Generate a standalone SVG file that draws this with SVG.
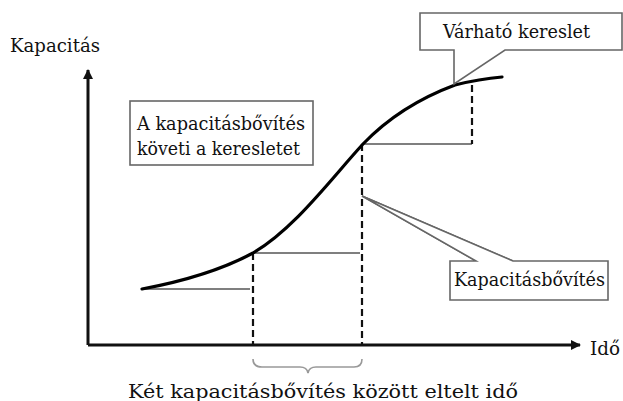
<svg xmlns="http://www.w3.org/2000/svg" width="623" height="401" viewBox="0 0 623 401">
<style>
text{font-family:"DejaVu Serif","Liberation Serif",serif;fill:#111;font-size:19px}
.axis{stroke:#111;stroke-width:3;fill:none}
.curve{stroke:#000;stroke-width:3.2;fill:none;stroke-linecap:round}
.dash{stroke:#111;stroke-width:2.2;stroke-dasharray:7 4;fill:none}
.step{stroke:#555;stroke-width:1.6;fill:none}
.box{stroke:#666;stroke-width:1.6;fill:#fff}
.lead{stroke:#666;stroke-width:1.4;fill:none}
.brace{stroke:#999;stroke-width:1.6;fill:none}
</style>
<defs>
<marker id="arr" viewBox="0 0 10 10" refX="9" refY="5" markerWidth="10" markerHeight="10" markerUnits="userSpaceOnUse" orient="auto">
<path d="M0,0 L10,5 L0,10 Z" fill="#111"/>
</marker>
</defs>
<rect width="623" height="401" fill="#fff"/>
<g id="connectors">
<line class="axis" x1="88" y1="345" x2="88" y2="70" marker-end="url(#arr)"/>
<line class="axis" x1="88" y1="345" x2="580" y2="345" marker-end="url(#arr)"/>
<path class="step" d="M142,289 H250"/>
<path class="step" d="M253,253 H360"/>
<path class="step" d="M363,144 H472"/>
<path class="dash" d="M253,253 V345"/>
<path class="dash" d="M362,144 V345"/>
<path class="dash" d="M472,85 V144"/>
<path class="curve" d="M142,289 C190,280 225,268 253,253 C295,228 330,180 363,144 C390,116 420,98 455,85 C475,80 490,78 502,77"/>
<path class="brace" d="M253,359 Q253,367 262,367 H300 Q307,367 308,373 Q309,367 316,367 H354 Q362,367 362,359"/>
<path class="lead" d="M362,196 L476,261 M362,196 L513,261"/>
</g>
<g id="node-kapacitas-label"><text x="10" y="52" textLength="90" lengthAdjust="spacingAndGlyphs">Kapacitás</text></g>
<g id="node-ido-label"><text x="590" y="355" textLength="30" lengthAdjust="spacingAndGlyphs">Idő</text></g>
<g id="node-bottom-label"><text x="128" y="398" textLength="390" lengthAdjust="spacingAndGlyphs">Két  kapacitásbővítés között eltelt idő</text></g>
<g id="node-koveti">
<rect class="box" x="130" y="101" width="183" height="64"/>
<text x="137" y="130" textLength="168" lengthAdjust="spacingAndGlyphs" font-size="20">A kapacitásbővítés</text>
<text x="137" y="155" textLength="163" lengthAdjust="spacingAndGlyphs" font-size="20">követi a keresletet</text>
</g>
<g id="node-varhato">
<path class="box" d="M420,13 H622 V50 H505 L454,84 V50 H420 Z"/>
<text x="443" y="38" textLength="147" lengthAdjust="spacingAndGlyphs" font-size="18">Várható kereslet</text>
</g>
<g id="node-bovites">
<path class="box" d="M450,261 H476 L362,196 L513,261 H608 V300 H450 Z"/>
<text x="454" y="286" textLength="151" lengthAdjust="spacingAndGlyphs">Kapacitásbővítés</text>
</g>
</svg>
